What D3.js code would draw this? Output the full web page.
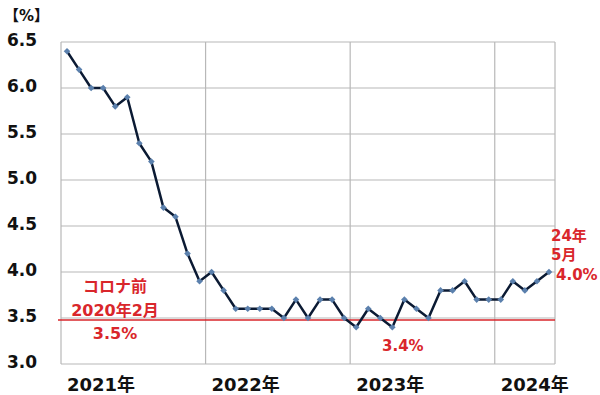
<!DOCTYPE html>
<html>
<head>
<meta charset="utf-8">
<script src="https://cdn.jsdelivr.net/npm/d3@7"></script>
<style>
	body { margin: 0; background: #fff; }
	text { font-family: "DejaVu Sans", "Noto Sans CJK JP", sans-serif; font-weight: bold; }
</style>
</head>
<body>
<svg id="chart" width="600" height="395"></svg>
<script>
// US unemployment rate, monthly, Jan 2021 - May 2024
var years = ["2021", "2022", "2023", "2024"];
var rates2021 = [6.4, 6.2, 6.0, 6.0, 5.8, 5.9, 5.4, 5.2, 4.7, 4.6, 4.2, 3.9];
var rates2022 = [4.0, 3.8, 3.6, 3.6, 3.6, 3.6, 3.5, 3.7, 3.5, 3.7, 3.7, 3.5];
var rates2023 = [3.4, 3.6, 3.5, 3.4, 3.7, 3.6, 3.5, 3.8, 3.8, 3.9, 3.7, 3.7];
var rates2024 = [3.7, 3.9, 3.8, 3.9, 4.0];
var yTicks = [3.0, 3.5, 4.0, 4.5, 5.0, 5.5, 6.0, 6.5];
var preCovid = 3.5;

var series = [rates2021, rates2022, rates2023, rates2024];
var data = [];
series.forEach(function(arr, i) {
	arr.forEach(function(v, m) {
		data.push({ key: years[i] + "-" + (m + 1), year: years[i], month: m + 1, value: v });
	});
});

var svg = d3.select("#chart");
var plotLeft = 61, plotRight = 555, plotTop = 42, plotBottom = 364;

var x = d3.scaleBand()
	.domain(data.map(function(d) { return d.key; }))
	.range([plotLeft, plotRight]);

var y = d3.scaleLinear()
	.domain([3.0, 6.5])
	.range([plotBottom, plotTop]);

var grid = svg.append("g").attr("stroke", "#b8b8b8").attr("stroke-width", 1.2);

// horizontal gridlines
grid.selectAll(".h").data(yTicks).enter().append("line")
	.attr("x1", plotLeft).attr("x2", plotRight)
	.attr("y1", function(d) { return y(d); })
	.attr("y2", function(d) { return y(d); });

// vertical gridlines at start of each year + frame
grid.selectAll(".v").data(years).enter().append("line")
	.attr("x1", function(d) { return x(d + "-1"); })
	.attr("x2", function(d) { return x(d + "-1"); })
	.attr("y1", plotTop).attr("y2", plotBottom);
grid.append("line")
	.attr("x1", plotRight).attr("x2", plotRight)
	.attr("y1", plotTop).attr("y2", plotBottom);

// y tick labels
svg.selectAll(".ytick").data(yTicks).enter().append("text")
	.attr("x", 7)
	.attr("y", function(d) { return y(d) + 4; })
	.attr("font-size", 17)
	.attr("fill", "#111")
	.text(function(d) { return d.toFixed(1); });

svg.append("text")
	.attr("x", 4).attr("y", 21)
	.attr("font-size", 15)
	.attr("fill", "#111")
	.text("【%】");

// year labels
svg.selectAll(".xtick").data(years).enter().append("text")
	.attr("x", function(d) { return x(d + "-1") + 6; })
	.attr("y", 391)
	.attr("font-size", 18)
	.attr("fill", "#111")
	.text(function(d) { return d + "年"; });

// pre-covid reference line
svg.append("line")
	.attr("x1", 58).attr("x2", plotRight)
	.attr("y1", y(preCovid) + 2).attr("y2", y(preCovid) + 2)
	.attr("stroke", "#d9262b")
	.attr("stroke-width", 1.5);

// series line
var line = d3.line()
	.x(function(d) { return x(d.key) + x.bandwidth() / 2; })
	.y(function(d) { return y(d.value); });

svg.append("path")
	.datum(data)
	.attr("d", line)
	.attr("fill", "none")
	.attr("stroke", "#0b1a33")
	.attr("stroke-width", 2.5)
	.attr("stroke-linejoin", "round");

svg.selectAll(".pt").data(data).enter().append("path")
	.attr("d", d3.symbol().type(d3.symbolSquare).size(22))
	.attr("transform", function(d) {
		return "translate(" + (x(d.key) + x.bandwidth() / 2) + "," + y(d.value) + ") rotate(45)";
	})
	.attr("fill", "#5b80ad");

// annotations
var red = "#d9262b";
var notes = [
	{ t: "コロナ前", x: 115, y: 292, s: 16, a: "middle" },
	{ t: "2020年2月", x: 115, y: 316, s: 16, a: "middle" },
	{ t: "3.5%", x: 115, y: 339, s: 16, a: "middle" },
	{ t: "3.4%", x: 382, y: 351, s: 15, a: "start" },
	{ t: "24年", x: 551, y: 241, s: 15, a: "start" },
	{ t: "5月", x: 551, y: 260, s: 15, a: "start" },
	{ t: "4.0%", x: 556, y: 280, s: 15, a: "start" }
];
svg.selectAll(".note").data(notes).enter().append("text")
	.attr("x", function(d) { return d.x; })
	.attr("y", function(d) { return d.y; })
	.attr("font-size", function(d) { return d.s; })
	.attr("text-anchor", function(d) { return d.a; })
	.attr("fill", red)
	.text(function(d) { return d.t; });
</script>
</body>
</html>
